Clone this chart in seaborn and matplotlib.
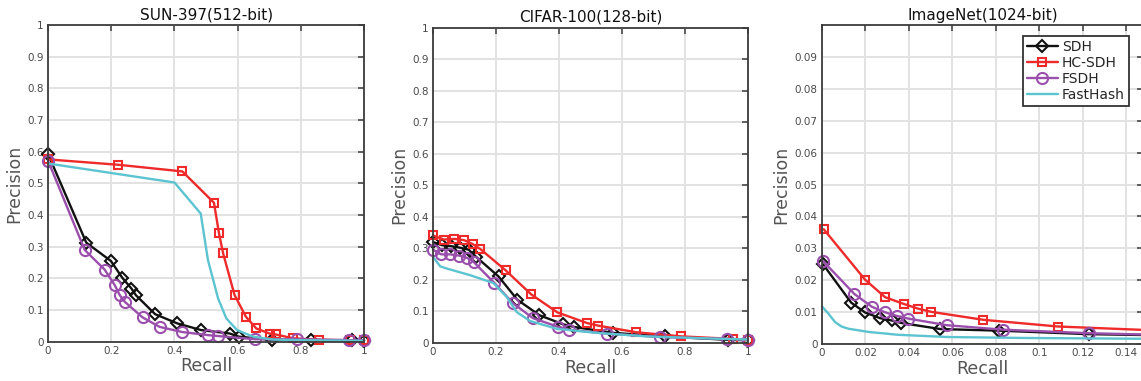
import matplotlib
matplotlib.use("Agg")
import matplotlib.pyplot as plt
import seaborn as sns

# SUN-397 (512-bit)
sun_sdh_r = [0, 0.121, 0.199, 0.235, 0.264, 0.278, 0.339, 0.409, 0.484, 0.575, 0.604, 0.71, 0.832, 0.963, 1.0]
sun_sdh_p = [0.593, 0.313, 0.255, 0.202, 0.168, 0.147, 0.087, 0.058, 0.037, 0.026, 0.016, 0.006, 0.006, 0.004, 0.003]
sun_hc_r = [0, 0.222, 0.425, 0.525, 0.541, 0.554, 0.59, 0.626, 0.659, 0.701, 0.72, 0.775, 0.858, 0.955, 1.0]
sun_hc_p = [0.576, 0.559, 0.538, 0.439, 0.342, 0.279, 0.148, 0.079, 0.042, 0.026, 0.023, 0.011, 0.006, 0.005, 0.005]
sun_fsdh_r = [0, 0.116, 0.179, 0.211, 0.227, 0.243, 0.299, 0.353, 0.423, 0.506, 0.539, 0.654, 0.789, 0.953, 1.0]
sun_fsdh_p = [0.572, 0.29, 0.228, 0.179, 0.147, 0.126, 0.077, 0.047, 0.031, 0.021, 0.018, 0.008, 0.008, 0.005, 0.005]
sun_fh_r = [0, 0.4, 0.483, 0.506, 0.538, 0.564, 0.598, 0.649, 0.712, 0.796, 1.0]
sun_fh_p = [0.563, 0.503, 0.405, 0.258, 0.137, 0.074, 0.037, 0.016, 0.007, 0.005, 0.003]

# CIFAR-100 (128-bit)
cif_sdh_r = [0, 0.029, 0.058, 0.087, 0.113, 0.137, 0.208, 0.268, 0.338, 0.414, 0.448, 0.572, 0.736, 0.937, 1.0]
cif_sdh_p = [0.32, 0.31, 0.307, 0.302, 0.296, 0.273, 0.211, 0.137, 0.088, 0.059, 0.051, 0.032, 0.021, 0.01, 0.009]
cif_hc_r = [0, 0.034, 0.068, 0.099, 0.127, 0.15, 0.231, 0.312, 0.395, 0.49, 0.525, 0.646, 0.789, 0.952, 1.0]
cif_hc_p = [0.341, 0.328, 0.33, 0.326, 0.313, 0.298, 0.23, 0.154, 0.097, 0.063, 0.055, 0.034, 0.021, 0.013, 0.011]
cif_fsdh_r = [0, 0.026, 0.055, 0.084, 0.108, 0.129, 0.195, 0.253, 0.317, 0.398, 0.433, 0.551, 0.72, 0.935, 1.0]
cif_fsdh_p = [0.296, 0.281, 0.281, 0.277, 0.27, 0.257, 0.19, 0.127, 0.079, 0.051, 0.042, 0.03, 0.019, 0.013, 0.011]
cif_fh_r = [0, 0.023, 0.044, 0.118, 0.192, 0.234, 0.266, 0.308, 0.393, 0.52, 0.678, 0.889, 1.0]
cif_fh_p = [0.273, 0.243, 0.236, 0.215, 0.19, 0.146, 0.098, 0.07, 0.045, 0.032, 0.021, 0.014, 0.011]

# ImageNet (1024-bit)
img_sdh_r = [0.0005, 0.0134, 0.0198, 0.0268, 0.032, 0.0365, 0.0545, 0.0815, 0.1226, 0.16]
img_sdh_p = [0.025, 0.013, 0.0099, 0.0081, 0.0074, 0.0066, 0.0047, 0.0042, 0.0031, 0.0027]
img_hc_r = [0.0008, 0.0198, 0.029, 0.0375, 0.0442, 0.0502, 0.0742, 0.1085, 0.16]
img_hc_p = [0.036, 0.0202, 0.0147, 0.0126, 0.0111, 0.0101, 0.0076, 0.0055, 0.0041]
img_fsdh_r = [0.0005, 0.0149, 0.0229, 0.0288, 0.0345, 0.0395, 0.0575, 0.0834, 0.1226, 0.16]
img_fsdh_p = [0.026, 0.0157, 0.0117, 0.01, 0.0088, 0.008, 0.0059, 0.0045, 0.0034, 0.0028]
img_fh_r = [0, 0.003, 0.006, 0.009, 0.0122, 0.0214, 0.035, 0.058, 0.094, 0.16]
img_fh_p = [0.0118, 0.0095, 0.0069, 0.0055, 0.0048, 0.0038, 0.0029, 0.0022, 0.0019, 0.0016]

titles = ["SUN-397(512-bit)", "CIFAR-100(128-bit)", "ImageNet(1024-bit)"]
methods = ["SDH", "HC-SDH", "FSDH", "FastHash"]

unit_ticks = [0, 0.1, 0.2, 0.3, 0.4, 0.5, 0.6, 0.7, 0.8, 0.9, 1]
unit_labels = ["0", "0.1", "0.2", "0.3", "0.4", "0.5", "0.6", "0.7", "0.8", "0.9", "1"]
unit_xticks = [0, 0.2, 0.4, 0.6, 0.8, 1]
unit_xlabels = ["0", "0.2", "0.4", "0.6", "0.8", "1"]
img_yticks = [0, 0.01, 0.02, 0.03, 0.04, 0.05, 0.06, 0.07, 0.08, 0.09]
img_ylabels = ["0", "0.01", "0.02", "0.03", "0.04", "0.05", "0.06", "0.07", "0.08", "0.09"]
img_xticks = [0, 0.02, 0.04, 0.06, 0.08, 0.1, 0.12, 0.14]
img_xlabels = ["0", "0.02", "0.04", "0.06", "0.08", "0.1", "0.12", "0.14"]

sns.set_style("whitegrid")
plt.rcParams["font.family"] = ["DejaVu Sans"]

styles = {
    "SDH": dict(color="#111111", marker="D", markersize=6.5),
    "HC-SDH": dict(color="#ee2a2a", marker="s", markersize=6),
    "FSDH": dict(color="#9b4fac", marker="o", markersize=8),
    "FastHash": dict(color="#5cc4d0", marker=None, markersize=0),
}

fig = plt.figure(figsize=(11.41, 3.81), dpi=100)
axes = [
    fig.add_axes([0.0421, 0.103, 0.277, 0.831]),
    fig.add_axes([0.3795, 0.0997, 0.276, 0.828]),
    fig.add_axes([0.7204, 0.097, 0.2813, 0.837]),
]

panels = [
    [(sun_sdh_r, sun_sdh_p), (sun_hc_r, sun_hc_p), (sun_fsdh_r, sun_fsdh_p), (sun_fh_r, sun_fh_p)],
    [(cif_sdh_r, cif_sdh_p), (cif_hc_r, cif_hc_p), (cif_fsdh_r, cif_fsdh_p), (cif_fh_r, cif_fh_p)],
    [(img_sdh_r, img_sdh_p), (img_hc_r, img_hc_p), (img_fsdh_r, img_fsdh_p), (img_fh_r, img_fh_p)],
]

for ax, title, series in zip(axes, titles, panels):
    for name, (r, p) in zip(methods, series):
        st = styles[name]
        sns.lineplot(
            x=r, y=p, ax=ax, sort=False, estimator=None, label=name,
            color=st["color"], marker=st["marker"], markersize=st["markersize"],
            markerfacecolor="none", markeredgecolor=st["color"], markeredgewidth=1.5,
            linewidth=1.7, clip_on=False, legend=False,
        )
    ax.set_title(title, fontsize=11, color="#111111", pad=4)
    ax.set_xlabel("Recall", fontsize=12.5, color="#555555", labelpad=1)
    ax.set_ylabel("Precision", fontsize=12.5, color="#555555", labelpad=3)
    ax.grid(True, color="#e2e2e2", linewidth=1.4)
    ax.set_axisbelow(True)
    for sp in ax.spines.values():
        sp.set_visible(True)
        sp.set_color("#3c3c3c")
        sp.set_linewidth(1.3)
    ax.tick_params(direction="in", top=True, right=True, length=4, width=1.1,
                   color="#3c3c3c", labelsize=7.5, labelcolor="#4a4a4a", pad=3)

for ax in axes[:2]:
    ax.set_xlim(0, 1)
    ax.set_ylim(0, 1)
    ax.set_yticks(unit_ticks)
    ax.set_yticklabels(unit_labels)
    ax.set_xticks(unit_xticks)
    ax.set_xticklabels(unit_xlabels)

ax = axes[2]
ax.set_xlim(0, 0.1476)
ax.set_ylim(0, 0.1)
ax.set_yticks(img_yticks)
ax.set_yticklabels(img_ylabels)
ax.set_xticks(img_xticks)
ax.set_xticklabels(img_xlabels)

handles, labels = ax.get_legend_handles_labels()
leg = ax.legend(handles, labels, loc="upper right", bbox_to_anchor=(0.965, 0.975),
                fontsize=10, frameon=True, fancybox=False, handlelength=2.2,
                handletextpad=0.3, borderpad=0.3, labelspacing=0.15, borderaxespad=0.2)
leg.get_frame().set_edgecolor("#333333")
leg.get_frame().set_linewidth(1.3)
leg.get_frame().set_alpha(1)

fig.savefig("out.png", dpi=100)
